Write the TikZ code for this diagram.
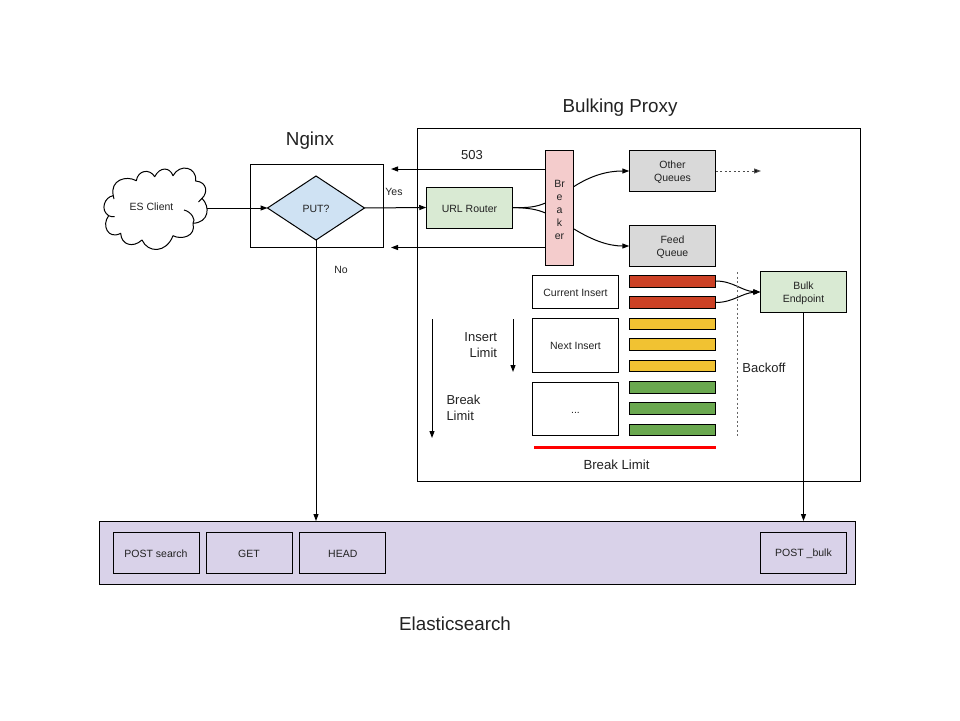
\documentclass[tikz,border=0pt]{standalone}
\usepackage{fontspec}
\setmainfont{Liberation Sans}
\usetikzlibrary{shapes.geometric,arrows.meta}
\definecolor{gfill}{HTML}{D9EAD3}
\definecolor{qfill}{HTML}{D9D9D9}
\definecolor{pfill}{HTML}{F4CCCC}
\definecolor{bfill}{HTML}{CFE2F3}
\definecolor{lfill}{HTML}{D9D2E9}
\definecolor{rfill}{HTML}{CC4125}
\definecolor{yfill}{HTML}{F1C232}
\definecolor{vfill}{HTML}{6AA84F}
\definecolor{txt}{HTML}{222222}
\newcommand\dn{\rule{0pt}{10pt}}
\tikzset{
  x=1pt,y=-1pt,
  every node/.style={font=\fontsize{10.5}{13.5}\selectfont,text=txt,align=center,inner sep=0pt,outer sep=0pt},
  box/.style={draw=black,line width=1pt,minimum width=#1,anchor=center,rectangle},
  box/.default=86.5,
  hg/.style={minimum height=#1},
  bar/.style={draw=black,line width=1pt,minimum width=86.5,minimum height=#1},
  bar/.default=11.5,
  link/.style={draw=black,line width=1pt,-{Triangle[length=7pt,width=5pt]}},
  plain/.style={draw=black,line width=1pt},
  title/.style={font=\fontsize{18.8}{22}\selectfont},
  mid/.style={font=\fontsize{13}{16}\selectfont},
}
\begin{document}
\begin{tikzpicture}
\useasboundingbox (0,0) rectangle (960,720);
% containers
\node[box=443,hg=353] (proxy) at (638.5,304.5) {};
\node[box=133,hg=83] (nginx) at (316.5,205.5) {};
\node[box=756,hg=63,fill=lfill] (es) at (477.5,552.5) {};
% titles
\node[title] (tproxy) at (620,107.5) {Bulking Proxy};
\node[title] (tnginx) at (310,140.5) {Nginx};
\node[title] (tes) at (455,623.5) {Elasticsearch};
% client cloud
\draw[plain,fill=white,line join=round]
  (113.3,195.7) .. controls (109.7,180) and (126.3,175) .. (136.3,180.7)
  .. controls (138,170) and (149.7,168.3) .. (154.7,176.7)
  .. controls (159.7,166.7) and (169.7,166.7) .. (173,175.7)
  .. controls (179.7,163.3) and (197,166.7) .. (195.7,181)
  .. controls (207.7,182) and (207.7,193.3) .. (202,198.3)
  .. controls (210.5,207) and (209,222.5) .. (193,223.3)
  .. controls (196.3,236.7) and (181.3,240) .. (173,235.7)
  .. controls (166.3,253.3) and (148,253.3) .. (142,240)
  .. controls (133,248.3) and (121.3,245) .. (120.7,233.3)
  .. controls (108,240) and (101.3,225) .. (108.7,215.7)
  .. controls (99.7,210) and (104.7,196.7) .. (113.3,195.7) -- cycle;
\draw[plain] (193,223.3) .. controls (196.3,220) and (191.3,211.7) .. (184,210);
\draw[plain] (108.7,215.7) .. controls (110.5,216.5) and (112.5,217) .. (114.7,216.7);
\draw[plain] (113.3,195.7) .. controls (113.3,197) and (113.6,198) .. (114,199);
\draw[plain] (202,198.3) .. controls (201,200) and (200,201) .. (198.5,202);
\node[minimum width=111,minimum height=60] (client) at (151.5,206.5) {ES Client};
\node[diamond,draw=black,line width=1pt,fill=bfill,minimum width=97,minimum height=64,aspect=1.5] (put) at (316,208) {\dn PUT?};
% proxy nodes
\node[box,hg=41,fill=gfill] (router) at (469.5,207.5) {\dn URL Router};
\node[box=28.5,hg=115,fill=pfill,font=\fontsize{10.5}{13.2}\selectfont] (breaker) at (559.5,208) {\rule{0pt}{11pt}Br\\e\\a\\k\\er};
\node[box,hg=41,fill=qfill] (other) at (672.5,171) {\dn Other\\Queues};
\node[box,hg=41,fill=qfill] (feed) at (672.5,246) {\dn Feed\\Queue};
\node[box,hg=33] (current) at (575.5,291.5) {\dn Current Insert};
\node[box,hg=54] (next) at (575.5,345) {\dn Next Insert};
\node[box,hg=53] (dots) at (575.5,408.5) {\dn ...};
\node[bar=12,fill=rfill] (r1) at (672.5,281) {};
\node[bar,fill=rfill] (r2) at (672.5,302.5) {};
\node[bar,fill=yfill] (y1) at (672.5,324) {};
\node[bar,fill=yfill] (y2) at (672.5,344.5) {};
\node[bar,fill=yfill] (y3) at (672.5,366) {};
\node[bar,fill=vfill] (v1) at (672.5,387.5) {};
\node[bar,fill=vfill] (v2) at (672.5,408.5) {};
\node[bar,fill=vfill] (v3) at (672.5,430) {};
\node[box,hg=41,fill=gfill] (bulk) at (803.5,292) {\dn Bulk\\Endpoint};
% elasticsearch nodes
\node[box=86,hg=41,font=\fontsize{10.5}{12}\selectfont] (search) at (156,552.5) {\dn POST search};
\node[box=86,hg=41] (get) at (249,552.5) {\dn GET};
\node[box=86,hg=41] (head) at (342.75,552.5) {\dn HEAD};
\node[box,hg=41] (pbulk) at (803.5,552.5) {\dn POST \_bulk};
% labels
\node[mid] (l503) at (472,155) {503};
\node (lyes) at (394,192) {Yes};
\node (lno) at (341,270) {No};
\node[mid,align=right,anchor=east] (linsert) at (497,345) {Insert\\Limit};
\node[mid,align=left,anchor=west] (lbreak) at (446.5,408) {Break\\Limit};
\node[mid] (lback) at (764,367.5) {Backoff};
\node[font=\fontsize{13.2}{15}\selectfont] (lbl) at (616.5,465) {Break Limit};
% free ends
\coordinate (a1) at (391,169);
\coordinate (a2) at (391,247.5);
\coordinate (d1) at (761,171);
\coordinate (il1) at (513,319);
\coordinate (il2) at (513,372);
\coordinate (bl1) at (432,319);
\coordinate (bl2) at (432,438);
\coordinate (bk1) at (737.5,272);
\coordinate (bk2) at (737.5,436);
\coordinate (rl1) at (534,447);
\coordinate (rl2) at (715.5,447);
% connectors
\draw[link] (client.east |- put.west) -- (put.west);
\draw[link] (put.east) -- (router.west);
\draw[link] (put.south) -- (put.south |- es.north);
\draw[link] (bulk.south) -- (bulk.south |- es.north);
\draw[link] (breaker.west |- a1) -- (a1);
\draw[link] (breaker.west |- a2) -- (a2);
\draw[plain] (router.east) .. controls (528,208) and (536,207) .. (545.5,203);
\draw[plain] (router.east) .. controls (528,208) and (536,209) .. (545.5,213);
\draw[link] (574,186.5) .. controls (592,175) and (608,171) .. (other.west);
\draw[link] (574,229) .. controls (592,240) and (608,246) .. (feed.west);
\draw[link,draw=black!70,dash pattern=on 2pt off 2.5pt,-{Triangle[length=7pt,width=5pt,fill=black]}] (other.east) -- (d1);
\draw[link] (r1.east) .. controls (733,281) and (742,291) .. (bulk.west);
\draw[link] (r2.east) .. controls (733,302.5) and (742,293) .. (bulk.west);
\draw[link] (il1) -- (il2);
\draw[link] (bl1) -- (bl2);
\draw[draw=black!60,line width=1pt,dash pattern=on 2pt off 2.5pt] (bk1) -- (bk2);
\draw[draw=red,line width=3pt] (rl1) -- (rl2);
\end{tikzpicture}
\end{document}
